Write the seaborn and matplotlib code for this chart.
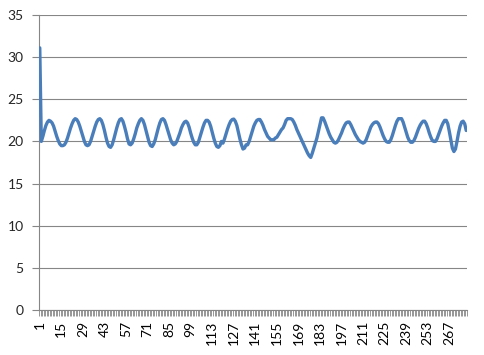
import matplotlib
matplotlib.use("Agg")
import matplotlib.pyplot as plt
import seaborn as sns
import pandas as pd
from matplotlib.ticker import FixedLocator

values = [
    31.1, 20.0, 20.6, 21.3, 21.9, 22.3, 22.5, 22.4, 22.2, 21.8,
    21.2, 20.6, 20.1, 19.7, 19.5, 19.5, 19.6, 19.9, 20.4, 21.0,
    21.6, 22.1, 22.5, 22.7, 22.6, 22.3, 21.8, 21.2, 20.6, 20.0,
    19.6, 19.5, 19.6, 20.0, 20.6, 21.2, 21.8, 22.3, 22.6, 22.7,
    22.5, 22.0, 21.3, 20.5, 19.8, 19.4, 19.3, 19.6, 20.2, 20.9,
    21.6, 22.2, 22.6, 22.7, 22.4, 21.8, 21.1, 20.3, 19.7, 19.6,
    19.8, 20.3, 20.9, 21.6, 22.1, 22.5, 22.7, 22.5, 22.0, 21.3,
    20.6, 19.9, 19.5, 19.4, 19.7, 20.2, 20.9, 21.6, 22.2, 22.6,
    22.7, 22.5, 22.0, 21.4, 20.8, 20.2, 19.8, 19.6, 19.7, 20.0,
    20.5, 21.0, 21.6, 22.0, 22.3, 22.4, 22.2, 21.7, 21.0, 20.4,
    19.9, 19.6, 19.6, 19.9, 20.5, 21.1, 21.7, 22.2, 22.5, 22.5,
    22.3, 21.8, 21.1, 20.4, 19.8, 19.4, 19.3, 19.5, 20.0, 19.8,
    20.3, 20.9, 21.5, 22.0, 22.4, 22.6, 22.65, 22.4, 21.9, 21.1,
    20.3, 19.6, 19.1, 19.2, 19.6, 19.6, 20.0, 20.6, 21.2, 21.8,
    22.2, 22.5, 22.6, 22.6, 22.3, 21.9, 21.4, 21.0, 20.6, 20.4,
    20.2, 20.2, 20.2, 20.4, 20.5, 20.8, 21.1, 21.4, 21.6, 22.0,
    22.5, 22.7, 22.7, 22.7, 22.6, 22.3, 21.9, 21.4, 21.0, 20.6,
    20.2, 19.8, 19.4, 19.0, 18.6, 18.3, 18.1, 18.6, 19.2, 19.8,
    20.4, 21.2, 22.0, 22.8, 22.8, 22.4, 21.9, 21.4, 20.9, 20.5,
    20.2, 19.9, 19.8, 19.9, 20.2, 20.6, 21.0, 21.5, 21.9, 22.2,
    22.3, 22.3, 22.0, 21.6, 21.2, 20.8, 20.5, 20.2, 20.0, 19.9,
    19.8, 19.9, 20.2, 20.7, 21.2, 21.7, 22.0, 22.2, 22.3, 22.3,
    22.1, 21.7, 21.2, 20.7, 20.3, 20.0, 19.9, 19.9, 20.2, 20.7,
    21.3, 21.9, 22.4, 22.7, 22.7, 22.7, 22.3, 21.7, 21.1, 20.5,
    20.1, 19.9, 19.9, 20.1, 20.5, 21.0, 21.5, 21.9, 22.2, 22.4,
    22.4, 22.1, 21.6, 21.0, 20.5, 20.1, 20.0, 20.0, 20.3, 20.8,
    21.3, 21.8, 22.2, 22.5, 22.5, 22.1, 21.2, 20.2, 19.2, 18.8,
    19.1, 20.0, 21.0, 21.8, 22.3, 22.4, 22.1, 21.3,
]
categories = list(range(1, len(values) + 1))
x_tick_labels = [1, 15, 29, 43, 57, 71, 85, 99, 113, 127, 141, 155, 169,
                 183, 197, 211, 225, 239, 253, 267]
y_ticks = [0, 5, 10, 15, 20, 25, 30, 35]

df = pd.DataFrame({"cat": categories, "val": values})

sns.set_style("white")
plt.rcParams["font.family"] = ["Lato", "DejaVu Sans"]

W, H = 485, 355
fig = plt.figure(figsize=(W / 100, H / 100), dpi=100)
ax = fig.add_axes([39 / W, 45 / H, (467 - 39) / W, (310 - 15) / H])

grid_c = "#868686"
sns.lineplot(data=df, x="cat", y="val", ax=ax, color="#4A7EBB",
             linewidth=2.4, zorder=3)

ax.set_xlim(0.5, len(values) + 0.5)
ax.set_ylim(0, 35)
ax.set_yticks(y_ticks)
ax.set_yticklabels([str(v) for v in y_ticks])
ax.yaxis.grid(True, color=grid_c, linewidth=0.8)
ax.set_axisbelow(True)

ax.set_xticks(x_tick_labels)
ax.set_xticklabels([str(v) for v in x_tick_labels], rotation=90,
                   ha="center", va="top")
ax.xaxis.set_minor_locator(FixedLocator([k + 0.5 for k in range(0, len(values) + 1)]))
ax.tick_params(axis="x", which="major", length=0, pad=8, labelsize=10,
               colors="#000000")
ax.tick_params(axis="x", which="minor", length=4, width=0.6, color=grid_c,
               bottom=True)
ax.tick_params(axis="y", which="major", length=5, width=0.8, color=grid_c,
               pad=6, labelsize=10, left=True)

for s in ["top", "right"]:
    ax.spines[s].set_visible(False)
ax.spines["left"].set_color(grid_c)
ax.spines["left"].set_linewidth(0.8)
ax.spines["bottom"].set_color(grid_c)
ax.spines["bottom"].set_linewidth(0.8)
ax.set_xlabel("")
ax.set_ylabel("")

fig.savefig("out.png", dpi=100, facecolor="white")
